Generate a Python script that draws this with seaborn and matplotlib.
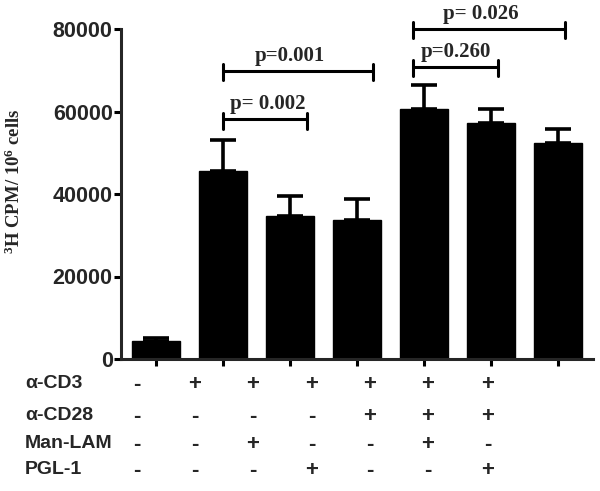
import matplotlib
matplotlib.use("Agg")
import matplotlib.pyplot as plt
import seaborn as sns
import pandas as pd
import numpy as np

# data
groups = ["1", "2", "3", "4", "5", "6", "7"]
means = [4300, 45500, 34600, 33700, 60500, 57100, 52300]
sem = [700, 7500, 4900, 5100, 6000, 3600, 3400]

y_ticks = [0, 20000, 40000, 60000, 80000]

# significance brackets: (x start, x end, bracket y, label, label x)
brackets = [
    (1.0, 3.24, 69900, "p=0.001", 2.0),
    (1.0, 2.25, 58100, "p= 0.002", 1.67),
    (3.84, 5.10, 70800, "p=0.260", 4.48),
    (3.84, 6.10, 80000, "p= 0.026", 4.85),
]

row_labels = ["\u03b1-CD3", "\u03b1-CD28", "Man-LAM", "PGL-1"]
cd3 = ["-", "+", "+", "+", "+", "+", "+"]
cd28 = ["-", "-", "-", "-", "+", "+", "+"]
manlam = ["-", "-", "+", "-", "-", "+", "-"]
pgl1 = ["-", "-", "-", "+", "-", "-", "+"]

df = pd.DataFrame({"group": groups, "cpm": means})

sns.set_style("ticks")
plt.rcParams["font.family"] = ["Liberation Sans", "DejaVu Sans"]
plt.rcParams["mathtext.fontset"] = "custom"
plt.rcParams["mathtext.rm"] = "Liberation Serif:bold"
plt.rcParams["mathtext.default"] = "rm"

fig = plt.figure(figsize=(6, 4.91), dpi=100)
W, H = 600, 491
ax = fig.add_axes([121 / W, 1 - 359 / H, (593 - 121) / W, (359 - 29) / H])

sns.barplot(
    data=df,
    x="group",
    y="cpm",
    color="black",
    edgecolor="black",
    width=0.71,
    errorbar=None,
    ax=ax
)

xs = np.arange(len(groups))
ax.errorbar(
    xs,
    means,
    yerr=[np.zeros(len(sem)), sem],
    fmt="none",
    ecolor="black",
    elinewidth=2.6,
    capsize=9.5,
    capthick=2.6,
    zorder=1
)

for x0, x1, y, label, tx in brackets:
    ax.plot([x0, x1], [y, y], color="black", lw=2.2, clip_on=False, solid_capstyle="butt")
    for xe in (x0, x1):
        ax.plot([xe, xe], [y - 2300, y + 1600], color="black", lw=2.2, clip_on=False)
    ax.text(tx, y + 1200, label, ha="center", va="bottom",
            family="Liberation Serif", fontweight="bold", fontsize=15,
            clip_on=False)

ax.set_xlim(-0.52, 6.52)
ax.set_ylim(0, 80000)
ax.set_yticks(y_ticks)
ax.set_yticklabels([str(v) for v in y_ticks], fontweight="bold", fontsize=15.5)
ax.set_xticks(xs)
ax.set_xticklabels([])
ax.set_xlabel("")
ax.set_ylabel("$^{3}$H CPM/ 10$^{6}$ cells", family="Liberation Serif",
              fontweight="bold", fontsize=13.5)
ax.yaxis.set_label_coords(-0.205, 0.54)

sns.despine(ax=ax)
for side in ("left", "bottom"):
    ax.spines[side].set_linewidth(2.2)
ax.tick_params(axis="both", direction="out", width=2.2, length=5, color="black", pad=1)

# condition table under the bars
col_x = [137, 195, 253, 312, 370, 428, 488]
row_y = [384, 416, 444, 470]
for label, signs, y in zip(row_labels, [cd3, cd28, manlam, pgl1], row_y):
    fig.text(25 / W, 1 - y / H, label, ha="left", va="center",
             fontweight="bold", fontsize=14)
    for x, s in zip(col_x, signs):
        fig.text(x / W, 1 - y / H, s, ha="center", va="center",
                 fontweight="bold", fontsize=16)

fig.savefig("out.png", dpi=100)
plt.close(fig)
